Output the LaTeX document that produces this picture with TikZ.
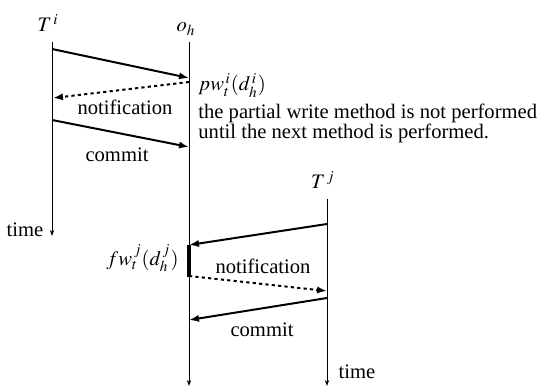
\documentclass[tikz,border=0pt]{standalone}
\usepackage{mathptmx}
\usepackage{fontspec}
\setmainfont{Liberation Serif}
\usetikzlibrary{arrows.meta}
\tikzset{
  life/.style={line width=0.5pt,-{Stealth[length=3pt,width=2.2pt]}},
  msg/.style={line width=1pt,-{Latex[length=5pt,width=3.6pt]}},
  notif/.style={msg,dash pattern=on 1.6pt off 1.6pt},
  lbl/.style={inner sep=0pt,font=\fontsize{10.3}{12}\selectfont}
}
\begin{document}
\begin{tikzpicture}[x=0.5pt,y=-0.5pt,every node/.style={lbl}]
\useasboundingbox (0,0) rectangle (539,389);
% object names
\node (ti) at (48,23) {$T^{\,i}$};
\node (oh) at (186,29) {$o_h$};
\node (tj) at (323,180) {$T^{\,j}$};
% life lines
\coordinate (ti0) at (52,42);  \coordinate (ti1) at (52,236);
\coordinate (oh0) at (189,42); \coordinate (oh1) at (189,386);
\coordinate (tj0) at (327,199); \coordinate (tj1) at (327,386);
\foreach \u/\v in {ti0/ti1,oh0/oh1,tj0/tj1}
  \draw[life] (\u)--(\v);
% message ends
\coordinate (a1) at (52,49);   \coordinate (b1) at (189,78);
\coordinate (a2) at (189,82);  \coordinate (b2) at (53,98);
\coordinate (a3) at (52,120);  \coordinate (b3) at (189,147);
\coordinate (a4) at (327,224); \coordinate (b4) at (189,245);
\coordinate (a5) at (189,276); \coordinate (b5) at (327,291);
\coordinate (a6) at (327,298); \coordinate (b6) at (189,320);
\foreach \u/\v/\s in {a1/b1/msg,a2/b2/notif,a3/b3/msg,a4/b4/msg,a5/b5/notif,a6/b6/msg}
  \draw[\s] (\u)--(\v);
% final write
\coordinate (fw0) at (188.5,245);
\coordinate (fw1) at (188.5,277);
\draw[line width=2pt] (fw0)--(fw1);
% labels
\node (n1) at (125,107) {notification};
\node (c1) at (117,155) {commit};
\node (n2) at (263,266) {notification};
\node (c2) at (262,330) {commit};
\node (tm1) at (25,230) {time};
\node (tm2) at (357,372) {time};
\node[anchor=base west] (pw) at (198,91) {$pw_t^{\,i}(d_h^{\,i})$};
\node[anchor=base west] (txt1) at (198,119) {the partial write method is not performed};
\node[anchor=base west] (txt2) at (198,139) {until the next method is performed.};
\node[anchor=base east] (fw) at (179,265) {$fw_t^{\,j}(d_h^{\,j})$};
\end{tikzpicture}
\end{document}
